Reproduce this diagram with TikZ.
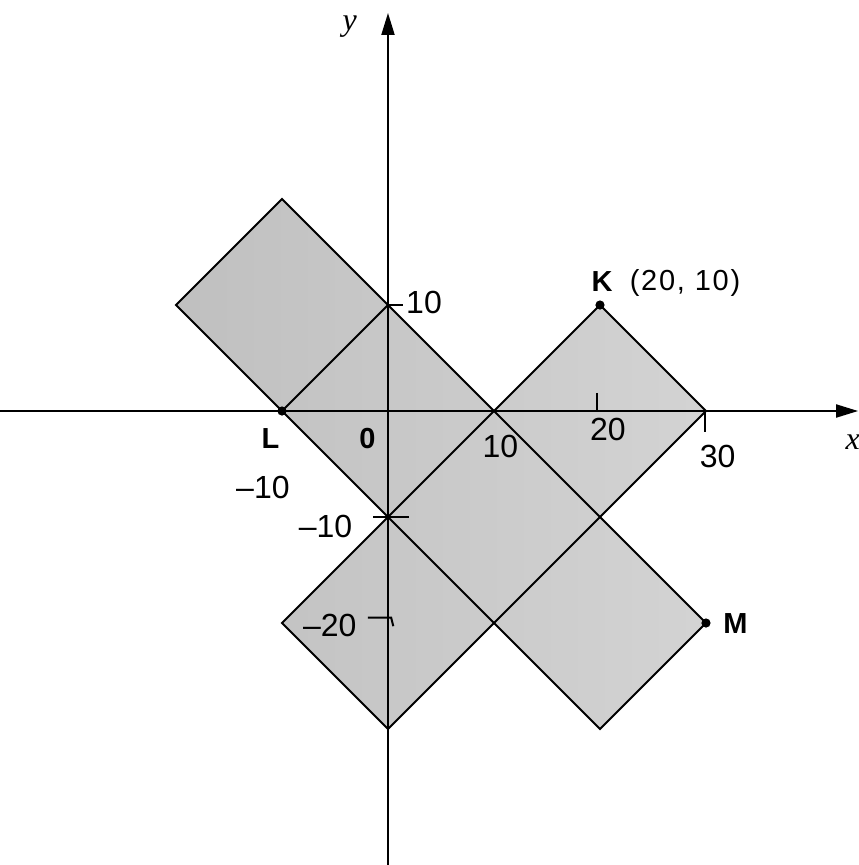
\documentclass[tikz,border=0pt]{standalone}
\usepackage{fontspec}
\setmainfont{Liberation Serif}
\setsansfont{Liberation Sans}
\newfontfamily\spacedsans[LetterSpace=6]{Liberation Sans}
\usetikzlibrary{arrows.meta}
\begin{document}
\begin{tikzpicture}[x=5.3pt,y=5.3pt,
  edge/.style={line width=0.95pt, black, line join=miter},
  axis/.style={line width=1pt, -{Triangle[length=11pt,width=6.5pt]}},
  dot/.style={circle, fill=black, inner sep=0pt, minimum size=4.6pt},
  lab/.style={font=\sffamily\bfseries\fontsize{14.5}{14.5}\selectfont, inner sep=0pt},
  coordlab/.style={font=\spacedsans\fontsize{14.5}{14.5}\selectfont, inner sep=0pt},
  hand/.style={font=\sffamily\fontsize{16}{16}\selectfont, inner sep=0pt},
  tickmark/.style={line width=1pt},
  axlab/.style={font=\itshape\fontsize{16}{16}\selectfont, inner sep=0pt}]
\fill[white] (-36.604,-42.830) rectangle (44.434,38.774);
\useasboundingbox (-36.604,-42.830) rectangle (44.434,38.774);
% corners of the two strips
\coordinate (A1) at (-20,10);
\coordinate (A2) at (-10,20);
\coordinate (A3) at (30,-20);
\coordinate (A4) at (20,-30);
\coordinate (B1) at (20,10);
\coordinate (B2) at (30,0);
\coordinate (B3) at (0,-30);
\coordinate (B4) at (-10,-20);
\coordinate (Lp) at (-10,0);
\coordinate (P10) at (0,10);
% shaded region
\begin{scope}
  \clip (A1) -- (A2) -- (A3) -- (A4) -- cycle (B1) -- (B2) -- (B3) -- (B4) -- cycle;
  \shade[left color=black!25, right color=black!17] (-21,-31) rectangle (31,21);
\end{scope}
\draw[edge] (A1) -- (A2) -- (A3) -- (A4) -- cycle;
\draw[edge] (B1) -- (B2) -- (B3) -- (B4) -- cycle;
\draw[edge] (Lp) -- (P10);
% axes
\coordinate (xs) at (-36.7,0);
\coordinate (xe) at (44.35,0);
\coordinate (ys) at (0,-42.9);
\coordinate (ye) at (0,37.55);
\draw[axis] (xs) -- (xe);
\draw[axis] (ys) -- (ye);
\node[axlab] (xl) at (43.85,-2.9) {x};
\node[axlab] (yl) at (-3.6,36.3) {y};
% points
\node[dot] (K) at (20,10) {};
\node[dot] (L) at (-10,0) {};
\node[dot] (M) at (30,-20) {};
\node[lab] (Kl) at (20.19,12.17) {K};
\node[coordlab] (Kc) at (28.02,12.1) {(20, 10)};
\node[lab] (Ll) at (-11.08,-2.55) {L};
\node[lab] (Ol) at (-1.93,-2.55) {0};
\node[lab] (Ml) at (32.78,-20.09) {M};
% handwritten marks
\coordinate (t1a) at (0,10);    \coordinate (t1b) at (1.4,10);
\coordinate (t2a) at (-1.4,-10); \coordinate (t2b) at (2,-10);
\coordinate (t3a) at (-1.9,-19.5); \coordinate (t3b) at (0.3,-19.5); \coordinate (t3c) at (0.5,-20.3);
\coordinate (t4a) at (19.7,1.7); \coordinate (t4b) at (19.7,0);
\coordinate (t5a) at (29.9,0);   \coordinate (t5b) at (29.9,-2);
\draw[tickmark] (t1a) -- (t1b);
\draw[tickmark] (t2a) -- (t2b);
\draw[tickmark] (t3a) -- (t3b) -- (t3c);
\draw[tickmark] (t4a) -- (t4b);
\draw[tickmark] (t5a) -- (t5b);
\node[hand] (h1) at (3.4,10.2) {10};
\node[hand] (h2) at (10.6,-3.3) {10};
\node[hand] (h3) at (20.75,-1.75) {20};
\node[hand] (h4) at (31.1,-4.25) {30};
\node[hand] (h5) at (-11.8,-7.2) {–10};
\node[hand] (h6) at (-5.9,-10.9) {–10};
\node[hand] (h7) at (-5.5,-20.2) {–20};
\end{tikzpicture}
\end{document}
